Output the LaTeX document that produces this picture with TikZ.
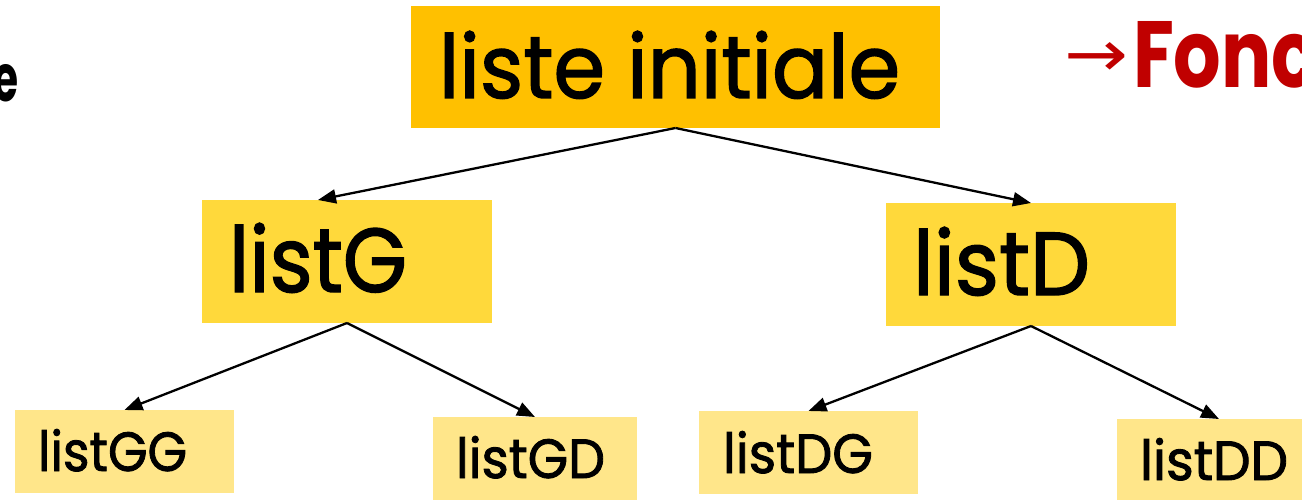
\documentclass[tikz,border=0pt]{standalone}
\usepackage{fontspec}
\setmainfont{Poppins}
\newfontfamily\lblfont{Poppins}[FakeBold=1.6]
\newfontfamily\symfont{DejaVu Sans}
\usetikzlibrary{fit,arrows.meta,calc}
\definecolor{rootfill}{HTML}{FFC000}
\definecolor{midfill}{HTML}{FFD93B}
\definecolor{leaffill}{HTML}{FFE68A}
\definecolor{titlered}{HTML}{C00000}
% scale a word to a given ink width and height
\newcommand{\fitxt}[3]{\resizebox{#1}{#2}{#3}}
\begin{document}
\begin{tikzpicture}[x=1pt,y=-1pt,
  box/.style={inner sep=0pt, outer sep=0pt, draw=none},
  lbl/.style={anchor=base west, inner sep=0pt, outer sep=0pt, font=\lblfont},
  link/.style={line width=2.3pt, -{Triangle[length=18pt,width=14pt]}}]
\path[use as bounding box] (0,0) rectangle (1302,500);
\clip (0,0) rectangle (1302,500);

% boxes of the tree
\node[box, fill=rootfill, fit={(411,6) (940,128)}] (root) {};
\node[box, fill=midfill, fit={(202,200) (492,323)}] (midL) {};
\node[box, fill=midfill, fit={(886,203) (1176,326)}] (midR) {};
\node[box, fill=leaffill, fit={(15,410) (234,493)}] (leafGG) {};
\node[box, fill=leaffill, fit={(433,417) (637,500)}] (leafGD) {};
\node[box, fill=leaffill, fit={(699,411) (918,494)}] (leafDG) {};
\node[box, fill=leaffill, fit={(1117,419) (1321,502)}] (leafDD) {};

% connectors
\draw[link] (root.south) -- ($(midL.north west)!0.4!(midL.north east)$);
\draw[link] (root.south) -- (midR.north);
\draw[link] (midL.south) -- (leafGG.north);
\draw[link] (midL.south) -- (leafGD.north);
\draw[link] (midR.south) -- (leafDG.north);
\draw[link] (midR.south) -- (leafDD.north);

% labels
\node[lbl] (rootlbl) at (439,98) {\fitxt{461pt}{67pt}{liste initiale}};
\node[lbl] (midLlbl) at (229,292) {\fitxt{178pt}{69pt}{listG}};
\node[lbl] (midRlbl) at (913,295) {\fitxt{177pt}{68pt}{listD}};
\node[lbl] (leafGGlbl) at (38,471) {\fitxt{149pt}{42pt}{listGG}};
\node[lbl] (leafGDlbl) at (456,478) {\fitxt{149pt}{42pt}{listGD}};
\node[lbl] (leafDGlbl) at (723,473) {\fitxt{150pt}{42pt}{listDG}};
\node[lbl] (leafDDlbl) at (1140,480) {\fitxt{148pt}{42pt}{listDD}};

% heading fragments at the edges
\node[lbl, font=\rmfamily] (leftword) at (-6,102) {\fitxt{25pt}{37pt}{\bfseries e}};
\node[lbl, font=\rmfamily, text=titlered] (arrowsym) at (1064,77) {\fitxt{64pt}{34pt}{\symfont →}};
\node[lbl, font=\rmfamily, text=titlered] (title) at (1133,88) {\fitxt{184pt}{66pt}{\bfseries Fonc}};
\end{tikzpicture}
\end{document}
